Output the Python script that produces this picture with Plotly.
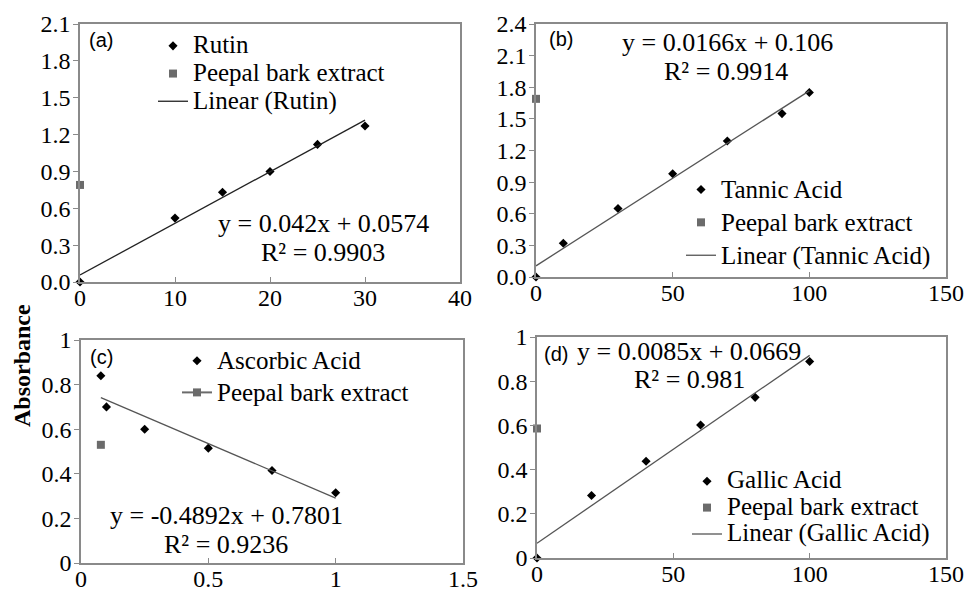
import plotly.graph_objects as go

W, H = 966, 592

# ---------------- data ----------------
rutin_x = [0, 10, 15, 20, 25, 30]
rutin_y = [0.0, 0.52, 0.73, 0.90, 1.12, 1.27]
rutin_peepal_x = [0]
rutin_peepal_y = [0.79]
rutin_slope, rutin_icpt = 0.042, 0.0574

tannic_x = [0, 10, 30, 50, 70, 90, 100]
tannic_y = [0.0, 0.32, 0.65, 0.98, 1.29, 1.55, 1.75]
tannic_peepal_x = [0]
tannic_peepal_y = [1.69]
tannic_slope, tannic_icpt = 0.0166, 0.106

ascorbic_x = [0.078, 0.1, 0.25, 0.5, 0.75, 1.0]
ascorbic_y = [0.84, 0.70, 0.60, 0.515, 0.415, 0.315]
ascorbic_peepal_x = [0.078]
ascorbic_peepal_y = [0.53]
ascorbic_slope, ascorbic_icpt = -0.4892, 0.7801

gallic_x = [0, 20, 40, 60, 80, 100]
gallic_y = [0.0, 0.283, 0.438, 0.602, 0.727, 0.889]
gallic_peepal_x = [0]
gallic_peepal_y = [0.586]
gallic_slope, gallic_icpt = 0.0085, 0.0669

# ---------------- helpers ----------------
def PX(x):
    return x / W

def PY(y):
    return 1 - y / H

SERIF = "Liberation Serif"
SANS = "Liberation Sans"
FRAME = "#8a8a8a"
DIAMOND = dict(symbol="diamond", size=7, color="black")
SQUARE = dict(symbol="square", size=8, color="#6b6b6b")

def big(s):
    return f'<span style="font-size:25px">{s}</span>'

fig = go.Figure()

panels = [
    dict(sx=rutin_x, sy=rutin_y, ppx=rutin_peepal_x, ppy=rutin_peepal_y,
         m=rutin_slope, b=rutin_icpt, ax="x", ay="y", leg="legend",
         std="Rutin", lin="Linear (Rutin)", tcol="#222222",
         dom=(80, 460, 24, 282), xr=[0, 40], xd=10, yr=[0, 2.1], yd=0.3, yf=".1f"),
    dict(sx=tannic_x, sy=tannic_y, ppx=tannic_peepal_x, ppy=tannic_peepal_y,
         m=tannic_slope, b=tannic_icpt, ax="x2", ay="y2", leg="legend2",
         std="Tannic Acid", lin="Linear (Tannic Acid)", tcol="#555555",
         dom=(536, 946, 24, 277), xr=[0, 150], xd=50, yr=[0, 2.4], yd=0.3, yf=".1f"),
    dict(sx=ascorbic_x, sy=ascorbic_y, ppx=ascorbic_peepal_x, ppy=ascorbic_peepal_y,
         m=ascorbic_slope, b=ascorbic_icpt, ax="x3", ay="y3", leg="legend3",
         std="Ascorbic Acid", lin=None, tcol="#555555",
         dom=(81, 463, 340, 563), xr=[0, 1.5], xd=0.5, yr=[0, 1], yd=0.2, yf=""),
    dict(sx=gallic_x, sy=gallic_y, ppx=gallic_peepal_x, ppy=gallic_peepal_y,
         m=gallic_slope, b=gallic_icpt, ax="x4", ay="y4", leg="legend4",
         std="Gallic Acid", lin="Linear (Gallic Acid)", tcol="#555555",
         dom=(537, 946, 337, 558), xr=[0, 150], xd=50, yr=[0, 1], yd=0.2, yf=""),
]

for i, p in enumerate(panels):
    fig.add_trace(go.Scatter(x=p["sx"], y=p["sy"], mode="markers", marker=DIAMOND,
                             name=big(p["std"]), xaxis=p["ax"], yaxis=p["ay"],
                             legend=p["leg"], cliponaxis=False))
    if p["lin"] is None:
        fig.add_trace(go.Scatter(x=p["ppx"], y=p["ppy"], mode="lines+markers",
                                 marker=SQUARE, line=dict(color="#6b6b6b", width=2),
                                 name=big("Peepal bark extract"), xaxis=p["ax"], yaxis=p["ay"],
                                 legend=p["leg"], cliponaxis=False))
    else:
        fig.add_trace(go.Scatter(x=p["ppx"], y=p["ppy"], mode="markers", marker=SQUARE,
                                 name=big("Peepal bark extract"), xaxis=p["ax"], yaxis=p["ay"],
                                 legend=p["leg"], cliponaxis=False))
    x0, x1 = min(p["sx"]), max(p["sx"])
    fig.add_trace(go.Scatter(x=[x0, x1], y=[p["m"] * x0 + p["b"], p["m"] * x1 + p["b"]],
                             mode="lines", line=dict(color=p["tcol"], width=1.3),
                             name=big(p["lin"] or "Linear"), showlegend=p["lin"] is not None,
                             xaxis=p["ax"], yaxis=p["ay"], legend=p["leg"],
                             cliponaxis=False))

    l, r, t, bt = p["dom"]
    sfx = "" if i == 0 else str(i + 1)
    xa = dict(domain=[PX(l), PX(r)], range=p["xr"], dtick=p["xd"], tick0=0,
              showline=True, mirror=True, linecolor=FRAME, linewidth=1.5,
              ticks="inside", ticklen=5, tickcolor=FRAME, tickwidth=1,
              showgrid=False, zeroline=False, anchor="y" + sfx, automargin=False,
              ticklabelstandoff=-7,
              tickfont=dict(family=SERIF, size=24, color="black"))
    ya = dict(domain=[PY(bt), PY(t)], range=p["yr"], dtick=p["yd"], tick0=0,
              showline=True, mirror=True, linecolor=FRAME, linewidth=1.5,
              ticks="outside", ticklen=5, tickcolor=FRAME, tickwidth=1,
              showgrid=False, zeroline=False, anchor="x" + sfx, automargin=False,
              tickformat=p["yf"], ticklabelstandoff=-2,
              tickfont=dict(family=SERIF, size=24, color="black"))
    fig.update_layout(**{"xaxis" + sfx: xa, "yaxis" + sfx: ya})

def legd(x, y, fs):
    return dict(x=PX(x), y=PY(y), xanchor="left", yanchor="top",
                font=dict(family=SERIF, size=fs, color="black"),
                bgcolor="rgba(0,0,0,0)", traceorder="normal")

fig.update_layout(
    legend=legd(153, 27, 19),
    legend2=legd(681, 168, 23),
    legend3=legd(177, 340, 22),
    legend4=legd(687, 463, 18),
)

# equations and labels
eqs = [
    ("y = 0.042x + 0.0574", 323, 223), ("R² = 0.9903", 323, 252),
    ("y = 0.0166x + 0.106", 727, 43), ("R² = 0.9914", 726, 72),
    ("y = -0.4892x + 0.7801", 226, 515), ("R² = 0.9236", 226, 544),
    ("y = 0.0085x + 0.0669", 689, 351), ("R² = 0.981", 689, 379),
]
anns = []
for txt, x, y in eqs:
    anns.append(dict(text=txt, x=PX(x), y=PY(y), xref="paper", yref="paper",
                     xanchor="center", yanchor="middle", showarrow=False,
                     font=dict(family=SERIF, size=26, color="black")))
for txt, x, y in [("(a)", 87, 40), ("(b)", 547, 39), ("(c)", 88, 357), ("(d)", 542, 354)]:
    anns.append(dict(text=txt, x=PX(x), y=PY(y), xref="paper", yref="paper",
                     xanchor="left", yanchor="middle", showarrow=False,
                     font=dict(family=SANS, size=20, color="black")))
anns.append(dict(text="<b>Absorbance</b>", x=PX(22), y=PY(366), xref="paper", yref="paper",
                 xanchor="center", yanchor="middle", textangle=-90, showarrow=False,
                 font=dict(family=SERIF, size=24, color="black")))

fig.update_layout(template="none", width=W, height=H, margin=dict(l=0, r=0, t=0, b=0, autoexpand=False),
                  font=dict(family=SERIF, size=24, color="black"),
                  paper_bgcolor="white", plot_bgcolor="white",
                  annotations=anns, showlegend=True)

fig.write_html("out.html")
